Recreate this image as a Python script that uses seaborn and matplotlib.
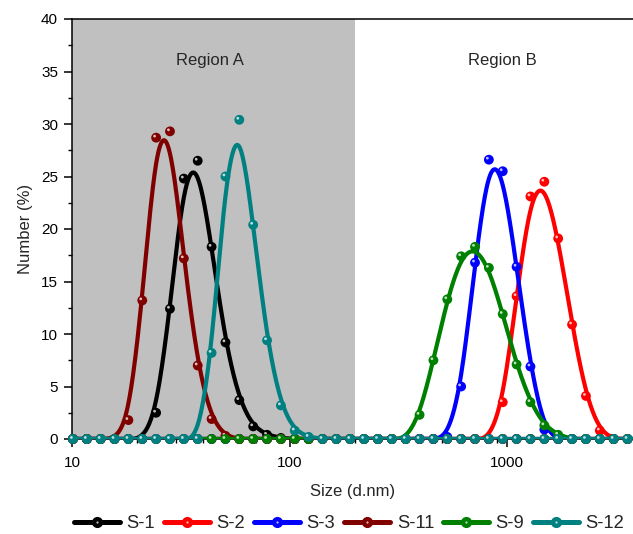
import numpy as np
import pandas as pd
import matplotlib
matplotlib.use("Agg")
import matplotlib.pyplot as plt
import matplotlib.ticker as mticker
import matplotlib.transforms as mtransforms
from matplotlib.lines import Line2D
from matplotlib.legend_handler import HandlerTuple
import seaborn as sns

# ---------------- data ----------------
sizes = [10.1, 11.7, 13.54, 15.69, 18.17, 21.04, 24.36, 28.21, 32.67, 37.84,
         43.82, 50.75, 58.77, 68.06, 78.82, 91.28, 105.7, 122.4, 141.8, 164.2,
         190.1, 220.2, 255.0, 295.3, 342.0, 396.1, 458.7, 531.2, 615.1, 712.4,
         825.0, 955.4, 1106, 1281, 1484, 1718, 1990, 2305, 2669, 3091, 3580, 4145]

s1 = [0, 0, 0, 0, 0, 0, 2.5, 12.4, 24.8, 26.5,
      18.3, 9.2, 3.7, 1.2, 0.4, 0.1, 0, 0, 0, 0,
      0, 0, 0, 0, 0, 0, 0, 0, 0, 0,
      0, 0, 0, 0, 0, 0, 0, 0, 0, 0, 0, 0]
s2 = [0, 0, 0, 0, 0, 0, 0, 0, 0, 0,
      0, 0, 0, 0, 0, 0, 0, 0, 0, 0,
      0, 0, 0, 0, 0, 0, 0, 0, 0, 0,
      0, 3.5, 13.6, 23.1, 24.5, 19.1, 10.9, 4.1, 0.8, 0, 0, 0]
s3 = [0, 0, 0, 0, 0, 0, 0, 0, 0, 0,
      0, 0, 0, 0, 0, 0, 0, 0, 0, 0,
      0, 0, 0, 0, 0, 0, 0, 0.2, 5.0, 16.8,
      26.6, 25.5, 16.4, 6.9, 0.9, 0, 0, 0, 0, 0, 0, 0]
s11 = [0, 0, 0, 0, 1.8, 13.2, 28.7, 29.3, 17.2, 7.0,
       1.9, 0.3, 0, 0, 0, 0, 0, 0, 0, 0,
       0, 0, 0, 0, 0, 0, 0, 0, 0, 0,
       0, 0, 0, 0, 0, 0, 0, 0, 0, 0, 0, 0]
s9 = [0, 0, 0, 0, 0, 0, 0, 0, 0, 0,
      0, 0, 0, 0, 0, 0, 0, 0, 0, 0,
      0, 0, 0, 0, 0, 2.3, 7.5, 13.3, 17.4, 18.3,
      16.3, 11.9, 7.1, 3.5, 1.3, 0.4, 0, 0, 0, 0, 0, 0]
s12 = [0, 0, 0, 0, 0, 0, 0, 0, 0, 0,
       8.2, 25.0, 30.4, 20.4, 9.4, 3.2, 0.8, 0.2, 0, 0,
       0, 0, 0, 0, 0, 0, 0, 0, 0, 0,
       0, 0, 0, 0, 0, 0, 0, 0, 0, 0, 0, 0]

series_names = ["S-1", "S-2", "S-3", "S-11", "S-9", "S-12"]
series_values = [s1, s2, s3, s11, s9, s12]
colors = ["#000000", "#ff0000", "#0000ff", "#800000", "#008000", "#008080"]

region_labels = ["Region A", "Region B"]
region_a_end = 200
x_min, x_max = 10, 3793
y_ticks = [0, 5, 10, 15, 20, 25, 30, 35, 40]


def bspline(x, y, per_seg=24):
    """Uniform cubic B-spline through control points in (log10 x, y)."""
    u = np.log10(np.asarray(x, float))
    v = np.asarray(y, float)
    U = np.concatenate([[u[0]], u, [u[-1]]])
    V = np.concatenate([[v[0]], v, [v[-1]]])
    t = np.linspace(0, 1, per_seg, endpoint=False)
    b0 = (1 - t) ** 3 / 6
    b1 = (3 * t ** 3 - 6 * t ** 2 + 4) / 6
    b2 = (-3 * t ** 3 + 3 * t ** 2 + 3 * t + 1) / 6
    b3 = t ** 3 / 6
    us, vs = [], []
    for i in range(len(U) - 3):
        us.append(b0 * U[i] + b1 * U[i + 1] + b2 * U[i + 2] + b3 * U[i + 3])
        vs.append(b0 * V[i] + b1 * V[i + 1] + b2 * V[i + 2] + b3 * V[i + 3])
    us.append([U[-1]]); vs.append([V[-1]])
    return 10 ** np.concatenate(us), np.concatenate(vs)


pts = pd.DataFrame({
    "size": np.tile(sizes, len(series_names)),
    "number": np.concatenate(series_values),
    "sample": np.repeat(series_names, len(sizes)),
})

curves = []
for name, vals in zip(series_names, series_values):
    cx, cy = bspline(sizes, vals)
    curves.append(pd.DataFrame({"size": cx, "number": cy, "sample": name}))
curves = pd.concat(curves)

# ---------------- figure ----------------
sns.set_theme(style="ticks")
plt.rcParams["font.family"] = ["Liberation Sans", "DejaVu Sans"]

fig = plt.figure(figsize=(6.33, 5.34), dpi=100)
ax = fig.add_axes([72 / 633, 1 - 439 / 534, 1 - 72 / 633, (439 - 19) / 534])

ax.axvspan(x_min, region_a_end, color="#c0c0c0", lw=0, zorder=0)

hl = mtransforms.offset_copy(ax.transData, fig=fig, x=-1.1, y=1.1, units="points")
for i, (name, col) in enumerate(zip(series_names, colors)):
    z = 2 + 3 * i
    sns.lineplot(data=curves[curves["sample"] == name], x="size", y="number",
                 color=col, lw=3.0, ax=ax, zorder=z, legend=False, sort=False,
                 estimator=None)
    sub = pts[pts["sample"] == name]
    sns.scatterplot(data=sub, x="size", y="number", color=col, s=50,
                    edgecolor="none", linewidth=0, ax=ax, zorder=z + 1, legend=False,
                    clip_on=False)
    ax.scatter(sub["size"], sub["number"], s=4, color="white", alpha=0.75,
               edgecolors="none", transform=hl, zorder=z + 2, clip_on=False)

ax.set_xscale("log")
ax.set_xlim(x_min, x_max)
ax.set_ylim(0, 40)
ax.set_yticks(y_ticks)
ax.yaxis.set_minor_locator(mticker.MultipleLocator(2.5))
ax.xaxis.set_major_locator(mticker.LogLocator(base=10, numticks=10))
ax.xaxis.set_minor_locator(mticker.LogLocator(base=10, subs=np.arange(2, 10), numticks=20))
ax.xaxis.set_minor_formatter(mticker.NullFormatter())
ax.xaxis.set_major_formatter(mticker.FuncFormatter(lambda v, p: f"{v:g}"))

ax.tick_params(axis="both", which="major", length=6, width=1.1, labelsize=11,
               direction="out", color="black", labelcolor="black", pad=4)
ax.tick_params(axis="both", which="minor", length=3, width=1.0, direction="out", color="black")
ax.tick_params(axis="x", which="major", pad=6)

for s in ["left", "bottom", "top"]:
    ax.spines[s].set_linewidth(1.1)
    ax.spines[s].set_color("black")
ax.spines["right"].set_visible(False)

ax.set_xlabel("Size (d.nm)", fontsize=12, labelpad=10)
ax.set_ylabel("Number (%)", fontsize=12, labelpad=6)

ax.text(43, 36.0, region_labels[0], ha="center", va="center", fontsize=12)
ax.text(955, 36.0, region_labels[1], ha="center", va="center", fontsize=12)

handles = []
for col in colors:
    h1 = Line2D([], [], color=col, lw=3.6, marker="o", markersize=7,
                markerfacecolor=col, markeredgecolor=col)
    h2 = Line2D([], [], color="none", lw=0, marker="o", markersize=1.6,
                markerfacecolor="white", markeredgecolor="none", alpha=0.75)
    handles.append((h1, h2))
fig.legend(handles, series_names, handler_map={tuple: HandlerTuple(ndivide=1, pad=0)},
           loc="lower center", bbox_to_anchor=(0.552, -0.028), ncol=6, frameon=False,
           fontsize=13.2, handlelength=2.5, handletextpad=0.35, columnspacing=0.5)

fig.savefig("out.png", dpi=100)
